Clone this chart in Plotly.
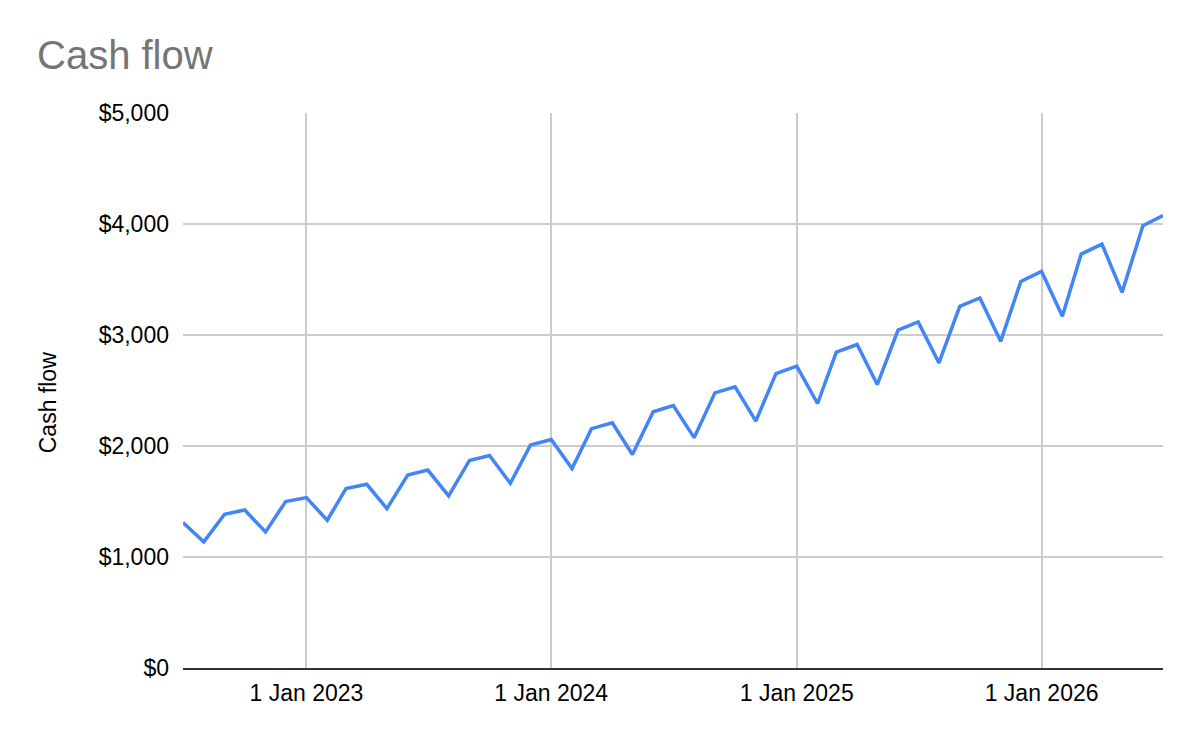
import plotly.graph_objects as go
import pandas as pd

months = pd.date_range("2022-07-01", "2026-07-01", freq="MS").strftime("%Y-%m-%d").tolist()
cash_flow = [
    1310, 1136, 1385, 1424, 1226, 1499,
    1535, 1331, 1616, 1655, 1436, 1738,
    1783, 1550, 1870, 1915, 1664, 2008,
    2059, 1796, 2156, 2209, 1924, 2308,
    2365, 2075, 2479, 2533, 2224, 2653,
    2719, 2383, 2845, 2914, 2554, 3045,
    3118, 2749, 3258, 3334, 2943, 3483,
    3573, 3168, 3729, 3819, 3384, 3984,
    4076,
]
x_ticks = ["2023-01-01", "2024-01-01", "2025-01-01", "2026-01-01"]
y_ticks = [0, 1000, 2000, 3000, 4000, 5000]

FONT = "Arial, Liberation Sans, sans-serif"
# page body has an 8px margin; compensate so the chart lands where the reference has it
OFF = 8
W, H = 1200 - OFF, 742 - OFF

fig = go.Figure()
fig.add_trace(go.Scatter(
    x=months, y=cash_flow, mode="lines",
    line=dict(color="#4285F4", width=3.5),
    name="Cash flow", showlegend=False,
))

fig.update_layout(
    width=W, height=H,
    paper_bgcolor="white", plot_bgcolor="white",
    margin=dict(l=183 - OFF, r=37, t=113 - OFF, b=74),
    font=dict(family=FONT, size=23, color="#000000"),
    title=dict(
        text="Cash flow", x=(37 - OFF) / W, xanchor="left",
        y=1 - (55 - OFF) / H, yanchor="middle", yref="container",
        font=dict(family=FONT, size=40, color="#757575"),
    ),
    xaxis=dict(
        range=[months[0], months[-1]],
        tickvals=x_ticks, tickformat="%-d %b %Y",
        showgrid=True, gridcolor="#cccccc", gridwidth=1.5,
        showline=True, linecolor="#333333", linewidth=2,
        ticks="", zeroline=False, ticklabelstandoff=3,
        tickfont=dict(family=FONT, size=23, color="#000000"),
    ),
    yaxis=dict(
        range=[0, 5000], tickvals=y_ticks, tickformat="$,",
        showgrid=True, gridcolor="#cccccc", gridwidth=1.5,
        zeroline=False, showline=False, ticks="",
        ticklabelstandoff=13,
        tickfont=dict(family=FONT, size=23, color="#000000"),
    ),
    annotations=[dict(
        text="Cash flow", xref="paper", yref="paper",
        x=(48 - 183) / 980, y=(668 - 403) / 555.5,
        xanchor="center", yanchor="middle", textangle=-90,
        showarrow=False, font=dict(family=FONT, size=23, color="#000000"),
    )],
)

fig.write_html("out.html")
